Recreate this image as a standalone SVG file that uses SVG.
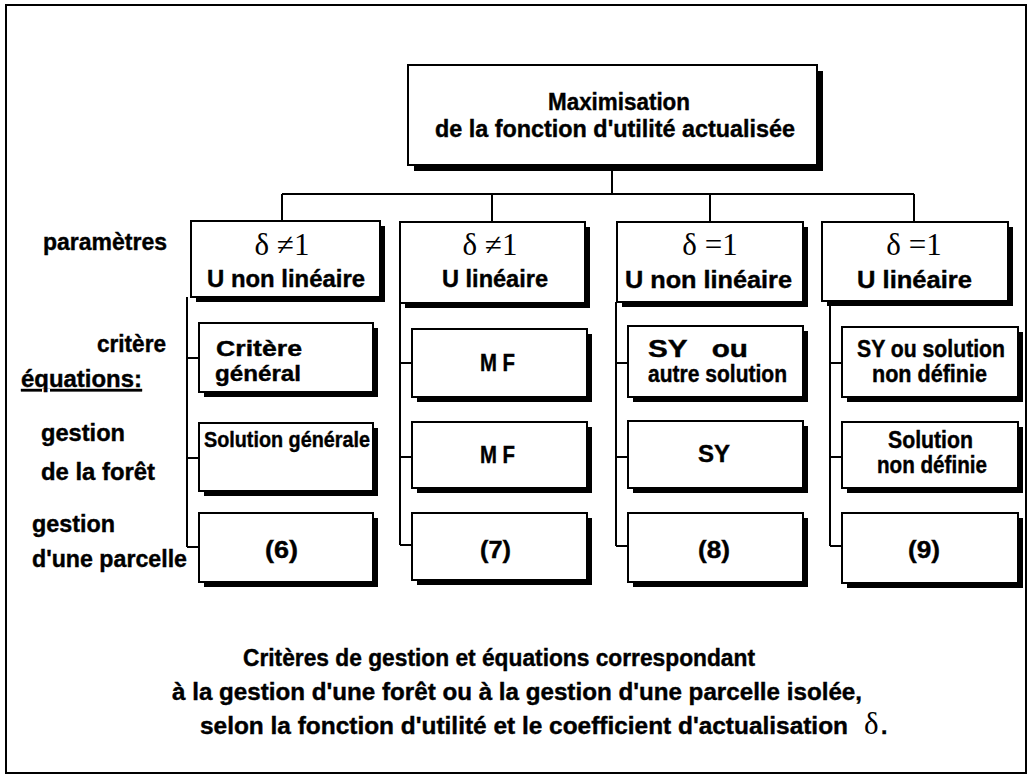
<svg xmlns="http://www.w3.org/2000/svg" width="1030" height="776" viewBox="0 0 1030 776">
<style>
.bx{fill:#fff;stroke:#000;stroke-width:2}
.sh{fill:#000}
.c{stroke:#000;stroke-width:2;fill:none}
.t{font-family:"Liberation Sans",Arial,Helvetica,sans-serif;font-weight:bold;fill:#000;stroke:#000;stroke-width:0.4}
.d{font-family:"Liberation Serif","Times New Roman",serif;font-size:31px;fill:#000}
</style>
<rect x="6" y="5" width="1020" height="768" fill="#fff" stroke="#000" stroke-width="2"/>

<g id="connectors">
<path class="c" d="M612 168V194M282 194H914M282 194V221M492 194V222M710 194V222M914 194V222"/>
<path class="c" d="M187 297V547M187 358H199M187 458H199M187 547H199"/>
<path class="c" d="M400 303V545M400 363H412M400 457H412M400 545H412"/>
<path class="c" d="M616 302V546M616 363H628M616 457H628M616 546H628"/>
<path class="c" d="M830 301V546M830 363H842M830 457H842M830 546H842"/>
</g>

<g id="top">
<rect class="sh" x="414" y="71" width="409" height="100"/>
<rect class="bx" x="408" y="65" width="409" height="100"/>
<text class="t" x="548" y="110" font-size="23" textLength="142" lengthAdjust="spacingAndGlyphs">Maximisation</text>
<text class="t" x="435" y="137" font-size="23" textLength="360" lengthAdjust="spacingAndGlyphs">de la fonction d'utilité actualisée</text>
</g>

<g id="labels">
<text class="t" x="43" y="250" font-size="24" textLength="124" lengthAdjust="spacingAndGlyphs">paramètres</text>
<text class="t" x="97" y="352" font-size="24" textLength="69" lengthAdjust="spacingAndGlyphs">critère</text>
<text class="t" x="21" y="387" font-size="24" textLength="121" lengthAdjust="spacingAndGlyphs" text-decoration="underline">équations:</text>
<text class="t" x="41" y="441" font-size="24" textLength="84" lengthAdjust="spacingAndGlyphs">gestion</text>
<text class="t" x="41" y="480" font-size="24" textLength="114" lengthAdjust="spacingAndGlyphs">de la forêt</text>
<text class="t" x="32" y="532" font-size="24" textLength="83" lengthAdjust="spacingAndGlyphs">gestion</text>
<text class="t" x="32" y="567" font-size="24" textLength="155" lengthAdjust="spacingAndGlyphs">d'une parcelle</text>
</g>

<g id="p1">
<rect class="sh" x="196" y="226" width="189" height="76"/>
<rect class="bx" x="191" y="221" width="189" height="76"/>
<text class="d" x="282" y="255" text-anchor="middle">δ ≠1</text>
<text class="t" x="207" y="287" font-size="24" textLength="158" lengthAdjust="spacingAndGlyphs">U non linéaire</text>
</g>
<g id="p2">
<rect class="sh" x="405" y="227" width="185" height="81"/>
<rect class="bx" x="400" y="222" width="185" height="81"/>
<text class="d" x="490" y="255" text-anchor="middle">δ ≠1</text>
<text class="t" x="442" y="287" font-size="24" textLength="106" lengthAdjust="spacingAndGlyphs">U linéaire</text>
</g>
<g id="p3">
<rect class="sh" x="622" y="227" width="186" height="80"/>
<rect class="bx" x="617" y="222" width="186" height="80"/>
<text class="d" x="710" y="255" text-anchor="middle">δ =1</text>
<text class="t" x="625" y="288" font-size="24" textLength="167" lengthAdjust="spacingAndGlyphs">U non linéaire</text>
</g>
<g id="p4">
<rect class="sh" x="827" y="227" width="186" height="79"/>
<rect class="bx" x="822" y="222" width="186" height="79"/>
<text class="d" x="914" y="255" text-anchor="middle">δ =1</text>
<text class="t" x="857" y="288" font-size="24" textLength="115" lengthAdjust="spacingAndGlyphs">U linéaire</text>
</g>

<g id="c1">
<rect class="sh" x="204" y="328" width="174" height="69"/>
<rect class="bx" x="199" y="323" width="174" height="69"/>
<text class="t" x="216" y="356" font-size="22" textLength="86" lengthAdjust="spacingAndGlyphs">Critère</text>
<text class="t" x="215" y="381" font-size="22" textLength="86" lengthAdjust="spacingAndGlyphs">général</text>
</g>
<g id="e1">
<rect class="sh" x="204" y="428" width="174" height="68"/>
<rect class="bx" x="199" y="423" width="174" height="68"/>
<text class="t" x="204" y="447" font-size="22" textLength="166" lengthAdjust="spacingAndGlyphs">Solution générale</text>
</g>
<g id="q6">
<rect class="sh" x="204" y="518" width="174" height="69"/>
<rect class="bx" x="199" y="513" width="174" height="69"/>
<text class="t" x="265" y="558" font-size="24" textLength="33" lengthAdjust="spacingAndGlyphs">(6)</text>
</g>

<g id="c2">
<rect class="sh" x="417" y="334" width="175" height="68"/>
<rect class="bx" x="412" y="329" width="175" height="68"/>
<text class="t" x="480" y="371" font-size="23" textLength="35" lengthAdjust="spacingAndGlyphs">M F</text>
</g>
<g id="e2">
<rect class="sh" x="417" y="427" width="175" height="66"/>
<rect class="bx" x="412" y="422" width="175" height="66"/>
<text class="t" x="480" y="463" font-size="23" textLength="35" lengthAdjust="spacingAndGlyphs">M F</text>
</g>
<g id="q7">
<rect class="sh" x="417" y="518" width="175" height="67"/>
<rect class="bx" x="412" y="513" width="175" height="67"/>
<text class="t" x="480" y="558" font-size="24" textLength="31" lengthAdjust="spacingAndGlyphs">(7)</text>
</g>

<g id="c3">
<rect class="sh" x="633" y="331" width="175" height="71"/>
<rect class="bx" x="628" y="326" width="175" height="71"/>
<text class="t" x="648" y="357" font-size="23" textLength="100" lengthAdjust="spacingAndGlyphs" xml:space="preserve" style="white-space:pre">SY   ou</text>
<text class="t" x="648" y="382" font-size="23" textLength="139" lengthAdjust="spacingAndGlyphs">autre solution</text>
</g>
<g id="e3">
<rect class="sh" x="633" y="426" width="175" height="67"/>
<rect class="bx" x="628" y="421" width="175" height="67"/>
<text class="t" x="698" y="462" font-size="23" textLength="32" lengthAdjust="spacingAndGlyphs">SY</text>
</g>
<g id="q8">
<rect class="sh" x="633" y="518" width="175" height="69"/>
<rect class="bx" x="628" y="513" width="175" height="69"/>
<text class="t" x="698" y="558" font-size="24" textLength="32" lengthAdjust="spacingAndGlyphs">(8)</text>
</g>

<g id="c4">
<rect class="sh" x="847" y="332" width="176" height="70"/>
<rect class="bx" x="842" y="327" width="176" height="70"/>
<text class="t" x="857" y="357" font-size="23" textLength="148" lengthAdjust="spacingAndGlyphs">SY ou solution</text>
<text class="t" x="872" y="382" font-size="23" textLength="115" lengthAdjust="spacingAndGlyphs">non définie</text>
</g>
<g id="e4">
<rect class="sh" x="847" y="427" width="176" height="66"/>
<rect class="bx" x="842" y="422" width="176" height="66"/>
<text class="t" x="888" y="448" font-size="23" textLength="85" lengthAdjust="spacingAndGlyphs">Solution</text>
<text class="t" x="877" y="473" font-size="23" textLength="110" lengthAdjust="spacingAndGlyphs">non définie</text>
</g>
<g id="q9">
<rect class="sh" x="847" y="518" width="176" height="70"/>
<rect class="bx" x="842" y="513" width="176" height="70"/>
<text class="t" x="908" y="558" font-size="24" textLength="32" lengthAdjust="spacingAndGlyphs">(9)</text>
</g>

<g id="caption">
<text class="t" x="243" y="666" font-size="23" textLength="512" lengthAdjust="spacingAndGlyphs">Critères de gestion et équations correspondant</text>
<text class="t" x="172" y="700" font-size="23" textLength="690" lengthAdjust="spacingAndGlyphs">à la gestion d'une forêt ou à la gestion d'une parcelle isolée,</text>
<text class="t" x="200" y="734" font-size="23" textLength="648" lengthAdjust="spacingAndGlyphs">selon la fonction d'utilité et le coefficient d'actualisation</text>
<text class="d" x="864" y="734" font-size="30">δ</text>
<text class="t" x="881" y="734" font-size="23">.</text>
</g>
</svg>
